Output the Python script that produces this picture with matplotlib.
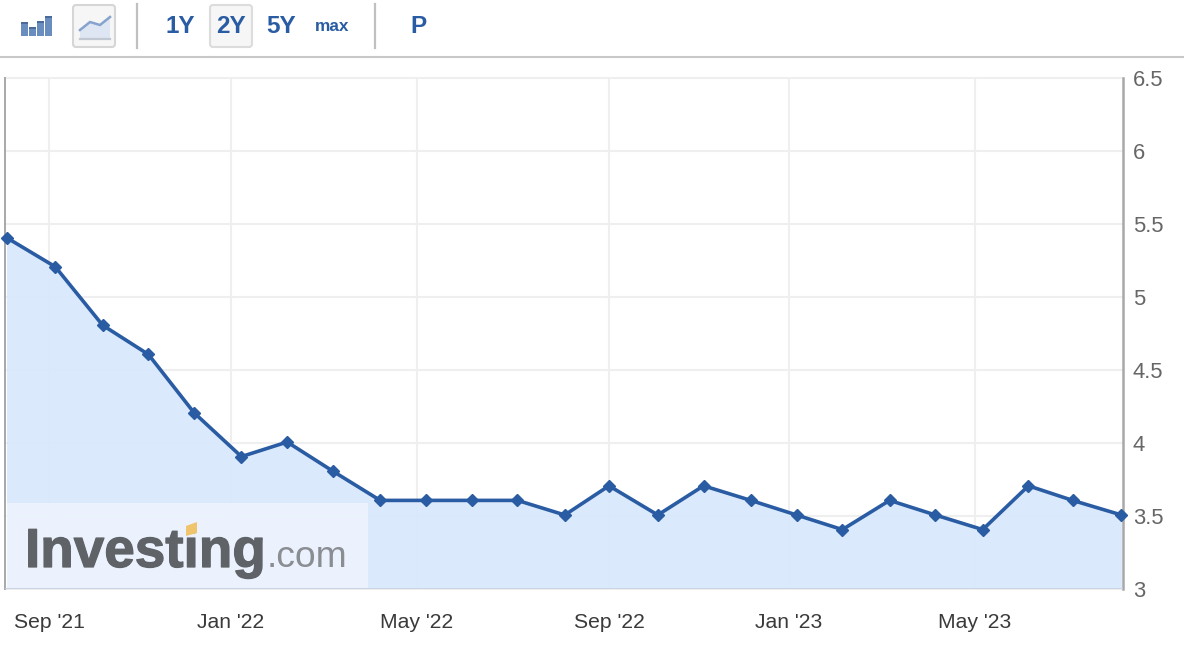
import matplotlib
matplotlib.use("Agg")
import matplotlib.pyplot as plt
import matplotlib.dates as mdates
import matplotlib.patheffects as pe
from matplotlib.patches import Rectangle, FancyBboxPatch, Polygon
from matplotlib.transforms import Affine2D
from datetime import date

plt.rcParams['font.family'] = ['Liberation Sans', 'DejaVu Sans']

release_dates = [
    "2021-08-04", "2021-09-05", "2021-10-06", "2021-11-05", "2021-12-05",
    "2022-01-05", "2022-02-04", "2022-03-06", "2022-04-06", "2022-05-06",
    "2022-06-05", "2022-07-05", "2022-08-05", "2022-09-03", "2022-10-05",
    "2022-11-04", "2022-12-05", "2023-01-04", "2023-02-03", "2023-03-06",
    "2023-04-05", "2023-05-06", "2023-06-05", "2023-07-04", "2023-08-05",
]
values = [
    5.4, 5.2, 4.8, 4.6, 4.2, 3.9, 4.0, 3.8, 3.6, 3.6, 3.6, 3.6, 3.5,
    3.7, 3.5, 3.7, 3.6, 3.5, 3.4, 3.6, 3.5, 3.4, 3.7, 3.6, 3.5,
]
x_tick_dates = ["2021-09-01", "2021-12-29", "2022-04-30", "2022-09-03", "2022-12-30", "2023-05-01"]
x_tick_labels = ["Sep '21", "Jan '22", "May '22", "Sep '22", "Jan '23", "May '23"]
y_ticks = [3, 3.5, 4, 4.5, 5, 5.5, 6, 6.5]
y_tick_labels = ["3", "3.5", "4", "4.5", "5", "5.5", "6", "6.5"]
toolbar_ranges = ["1Y", "2Y", "5Y", "max", "P"]
x_limits = ("2021-08-03", "2023-08-06")

W, H = 1184, 646
BLUE = "#2a5ca3"
FILL = "#d9e8fc"
GRID = "#efefef"

def num(s):
    return mdates.date2num(date.fromisoformat(s))

xs = [num(d) for d in release_dates]
xlo, xhi = num(x_limits[0]), num(x_limits[1])

fig = plt.figure(figsize=(W / 100, H / 100), dpi=100, facecolor="white")
ax = fig.add_axes([5 / W, 1 - 589 / H, (1123 - 5) / W, (589 - 78) / H])
ax.set_xlim(xlo, xhi)
ax.set_ylim(3, 6.5)
ax.set_facecolor("white")

up1 = ax.transData + Affine2D().translate(0, 1)
ax.fill_between(xs, values, 3, color=FILL, lw=0, zorder=3, alpha=0.93, transform=up1)
ax.plot(xs, values, color=BLUE, lw=2.6, marker="D", ms=6, mec=BLUE, mfc=BLUE,
        clip_on=False, zorder=6, solid_joinstyle="round", transform=up1)

ax.set_xticks([num(d) for d in x_tick_dates])
ax.set_xticklabels(x_tick_labels, fontsize=15.2, color="#3a3a3a")
ax.yaxis.tick_right()
ax.set_yticks(y_ticks)
ax.set_yticklabels(y_tick_labels, fontsize=15.8, color="#666666")
ax.tick_params(axis="x", length=0, pad=17)
ax.tick_params(axis="y", length=0, pad=7)
ax.grid(True, color=GRID, lw=1.5, zorder=1)
for gl in ax.get_ygridlines():
    gl.set_clip_on(False)
ax.set_axisbelow(True)

for s in ("top", "bottom"):
    ax.spines[s].set_visible(False)
ax.spines["left"].set_color("#a8a8a8")
ax.spines["right"].set_color("#a8a8a8")
ax.spines["left"].set_linewidth(1.4)
ax.spines["right"].set_linewidth(1.8)
ax.axhline(3, color="#c6d1e2", lw=2.0, zorder=5)

# Chrome overlay in pixel coordinates
ov = fig.add_axes([0, 0, 1, 1], zorder=10)
ov.set_xlim(0, W)
ov.set_ylim(H, 0)
ov.axis("off")
ov.patch.set_alpha(0)

# logo panel
ov.add_patch(Rectangle((6, 503), 362, 85, fc="white", alpha=0.45, lw=0))
ov.text(25, 567, "Investing", fontsize=39.5, fontweight="bold", color="#5f6266",
        ha="left", va="baseline",
        path_effects=[pe.withStroke(linewidth=0.9, foreground="#5f6266")])
ov.text(267, 567, ".com", fontsize=26.8, color="#8a8d91", ha="left", va="baseline")
ov.add_patch(Polygon([(186, 526), (197, 522), (197, 533), (186, 536)], fc="#f0c36d", lw=0, zorder=5))

# toolbar rule
ov.plot([0, W], [57, 57], color="#c8c8c8", lw=1.5)
for x0 in (137, 375):
    ov.plot([x0, x0], [4, 48], color="#c0c0c0", lw=1.6)

# bar icon
for bx, top in zip((21, 29, 37, 45), (22, 27, 21, 16)):
    ov.add_patch(Rectangle((bx, top), 6.5, 36 - top, fc="#6a8dbf", lw=0))
    ov.add_patch(Rectangle((bx, top), 6.5, 2, fc="#4a6a99", lw=0))

# line icon button
ov.add_patch(FancyBboxPatch((73, 5), 42, 42, boxstyle="round,pad=0,rounding_size=3",
                            fc="#f6f6f6", ec="#d6d6d6", lw=1.5))
icon_x = [80, 90, 100, 110]
icon_y = [30, 22, 25, 17]
ov.add_patch(Polygon(list(zip(icon_x, icon_y)) + [(110, 39), (80, 39)], fc="#dfe6f3", lw=0))
ov.plot(icon_x, icon_y, color="#86a3cd", lw=1.8)
ov.plot([80, 110], [38.5, 38.5], color="#c2c8d2", lw=1.6)

# selected range button
ov.add_patch(FancyBboxPatch((210, 5), 42, 42, boxstyle="round,pad=0,rounding_size=3",
                            fc="#f6f6f6", ec="#dcdcdc", lw=1.5))

for label, cx, size in zip(toolbar_ranges, (180, 231, 281, 332, 418), (17.5, 17.5, 17.5, 12.4, 17.5)):
    ov.text(cx, 26.5, label, fontsize=size, fontweight="bold", color=BLUE,
            ha="center", va="center")

fig.savefig("out.png", dpi=100, facecolor="white")
